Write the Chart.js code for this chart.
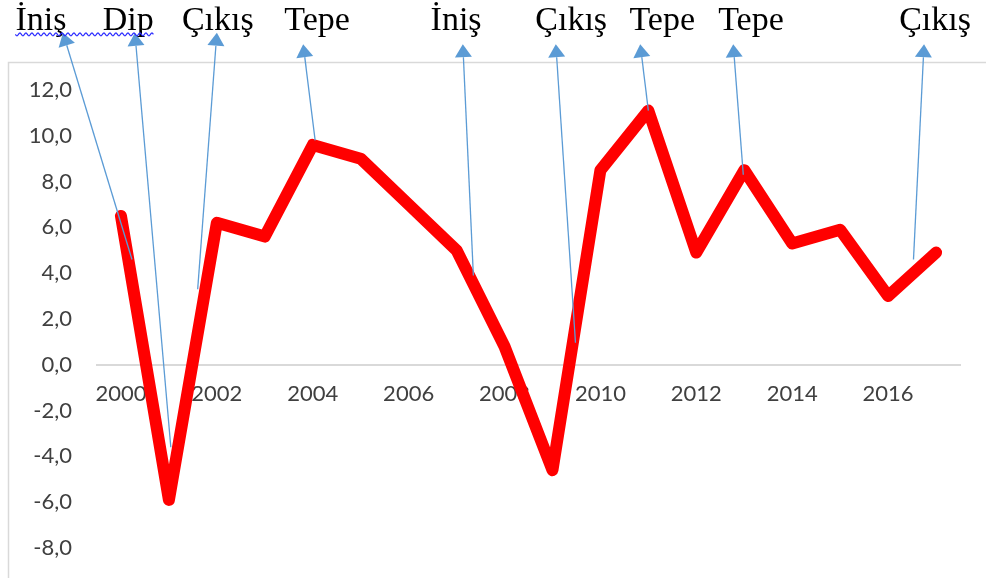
<!DOCTYPE html>
<html>
<head>
<meta charset="utf-8">
<script src="https://cdn.jsdelivr.net/npm/chart.js@4"></script>
<style>
  html, body { margin: 0; padding: 0; background: #fff; }
  #wrap { width: 986px; height: 578px; }
</style>
</head>
<body>
<div id="wrap"><canvas id="growth-chart"></canvas></div>
<script>
// yearly growth
let years = ["2000", "2001", "2002", "2003", "2004", "2005", "2006", "2007", "2008",
  "2009", "2010", "2011", "2012", "2013", "2014", "2015", "2016", "2017"];
let growth = [6.5, -5.9, 6.2, 5.6, 9.6, 9.0, 7.0, 5.0, 0.8,
  -4.6, 8.5, 11.1, 4.9, 8.5, 5.3, 5.9, 3.0, 4.9];

// annotation arrows (x in category index, y in axis units)
let noteLabels = ["İniş", "Dip", "Çıkış", "Tepe", "İniş", "Çıkış", "Tepe", "Tepe", "Çıkış"];
let noteTextX = [-1.67, 0.15, 2.02, 4.09, 6.99, 9.39, 11.29, 13.14, 16.98];
let noteTipX = [-1.21, 0.29, 2.0, 3.8, 7.13, 9.07, 10.83, 12.77, 16.75];
let noteTipY = [14.5, 14.5, 14.5, 14.0, 14.0, 14.0, 14.0, 14.0, 14.0];
let noteTailX = [0.23, 1.04, 1.6, 4.05, 7.35, 9.48, 11.0, 12.98, 16.53];
let noteTailY = [4.6, -3.6, 3.3, 9.8, 3.9, 0.96, 11.1, 8.3, 4.6];
let noteTextY = 14.6;

const notesPlugin = {
  id: "notes",
  beforeDraw(chart) {
    const ctx = chart.ctx;
    ctx.save();
    ctx.strokeStyle = "#d9d9d9";
    ctx.lineWidth = 1.5;
    ctx.strokeRect(8.5, 62.5, 1100, 600);
    ctx.restore();
  },
  afterDatasetsDraw(chart) {
    const ctx = chart.ctx;
    const xs = chart.scales.x;
    const ys = chart.scales.y;
    ctx.save();

    // arrows
    ctx.strokeStyle = "#5b9bd5";
    ctx.fillStyle = "#5b9bd5";
    ctx.lineWidth = 1.3;
    for (let i = 0; i < noteLabels.length; i++) {
      const x0 = xs.getPixelForValue(noteTailX[i]);
      const y0 = ys.getPixelForValue(noteTailY[i]);
      const x1 = xs.getPixelForValue(noteTipX[i]);
      const y1 = ys.getPixelForValue(noteTipY[i]);
      const ang = Math.atan2(y1 - y0, x1 - x0);
      const len = 13, half = 8.5;
      const bx = x1 - Math.cos(ang) * len;
      const by = y1 - Math.sin(ang) * len;
      ctx.beginPath();
      ctx.moveTo(x0, y0);
      ctx.lineTo(bx, by);
      ctx.stroke();
      ctx.beginPath();
      ctx.moveTo(x1, y1);
      ctx.lineTo(bx + Math.sin(ang) * half, by - Math.cos(ang) * half);
      ctx.lineTo(bx - Math.sin(ang) * half, by + Math.cos(ang) * half);
      ctx.closePath();
      ctx.fill();
    }

    // labels
    ctx.font = '34px "Liberation Serif"';
    ctx.fillStyle = "#000";
    ctx.textAlign = "center";
    ctx.textBaseline = "alphabetic";
    const ty = ys.getPixelForValue(noteTextY);
    for (let i = 0; i < noteLabels.length; i++) {
      ctx.fillText(noteLabels[i], xs.getPixelForValue(noteTextX[i]), ty);
    }

    // spell-check squiggle under the first two words
    const a = xs.getPixelForValue(noteTextX[0]) - ctx.measureText(noteLabels[0]).width / 2;
    const b = xs.getPixelForValue(noteTextX[1]) + ctx.measureText(noteLabels[1]).width / 2;
    ctx.strokeStyle = "#2a2aff";
    ctx.lineWidth = 1.2;
    ctx.beginPath();
    for (let px = a; px <= b; px += 1) {
      const py = ty + 4 + Math.sin((px - a) / 6 * Math.PI * 2) * 1.5;
      if (px === a) ctx.moveTo(px, py); else ctx.lineTo(px, py);
    }
    ctx.stroke();
    ctx.restore();
  }
};

const tickFont = { family: "Lato", size: 22 };

new Chart("growth-chart", {
  type: "line",
  data: {
    labels: years,
    datasets: [
      {
        data: growth,
        borderColor: "#ff0000",
        borderWidth: 12,
        borderCapStyle: "round",
        borderJoinStyle: "round",
        pointRadius: 0,
        tension: 0,
        clip: false,
      },
    ],
  },
  options: {
    responsive: true,
    maintainAspectRatio: false,
    animation: false,
    devicePixelRatio: 1,
    layout: { padding: { left: 0, right: 26, top: 90, bottom: 30 } },
    plugins: {
      legend: { display: false },
      tooltip: { enabled: false },
    },
    scales: {
      x: {
        position: { y: 0 },
        offset: true,
        grid: { display: false, offset: true },
        border: { display: true, color: "#d9d9d9", width: 2 },
        afterFit: (s) => {
          s.height = 0;
          s.paddingTop = 0;
          s.paddingBottom = 0;
        },
        ticks: {
          autoSkip: false,
          maxRotation: 0,
          padding: 8,
          color: "#404040",
          font: tickFont,
          callback: (v, i) => (i % 2 === 0 ? years[i] : ""),
        },
      },
      y: {
        min: -8,
        max: 12,
        grid: { display: false, drawTicks: false },
        border: { display: false },
        afterFit: (s) => {
          s.width = 97;
          s.paddingTop = 0;
          s.paddingBottom = 0;
        },
        ticks: {
          stepSize: 2,
          padding: 25,
          color: "#404040",
          font: tickFont,
          callback: (v) => v.toFixed(1).replace(".", ","),
        },
      },
    },
  },
  plugins: [notesPlugin],
});
</script>
</body>
</html>
